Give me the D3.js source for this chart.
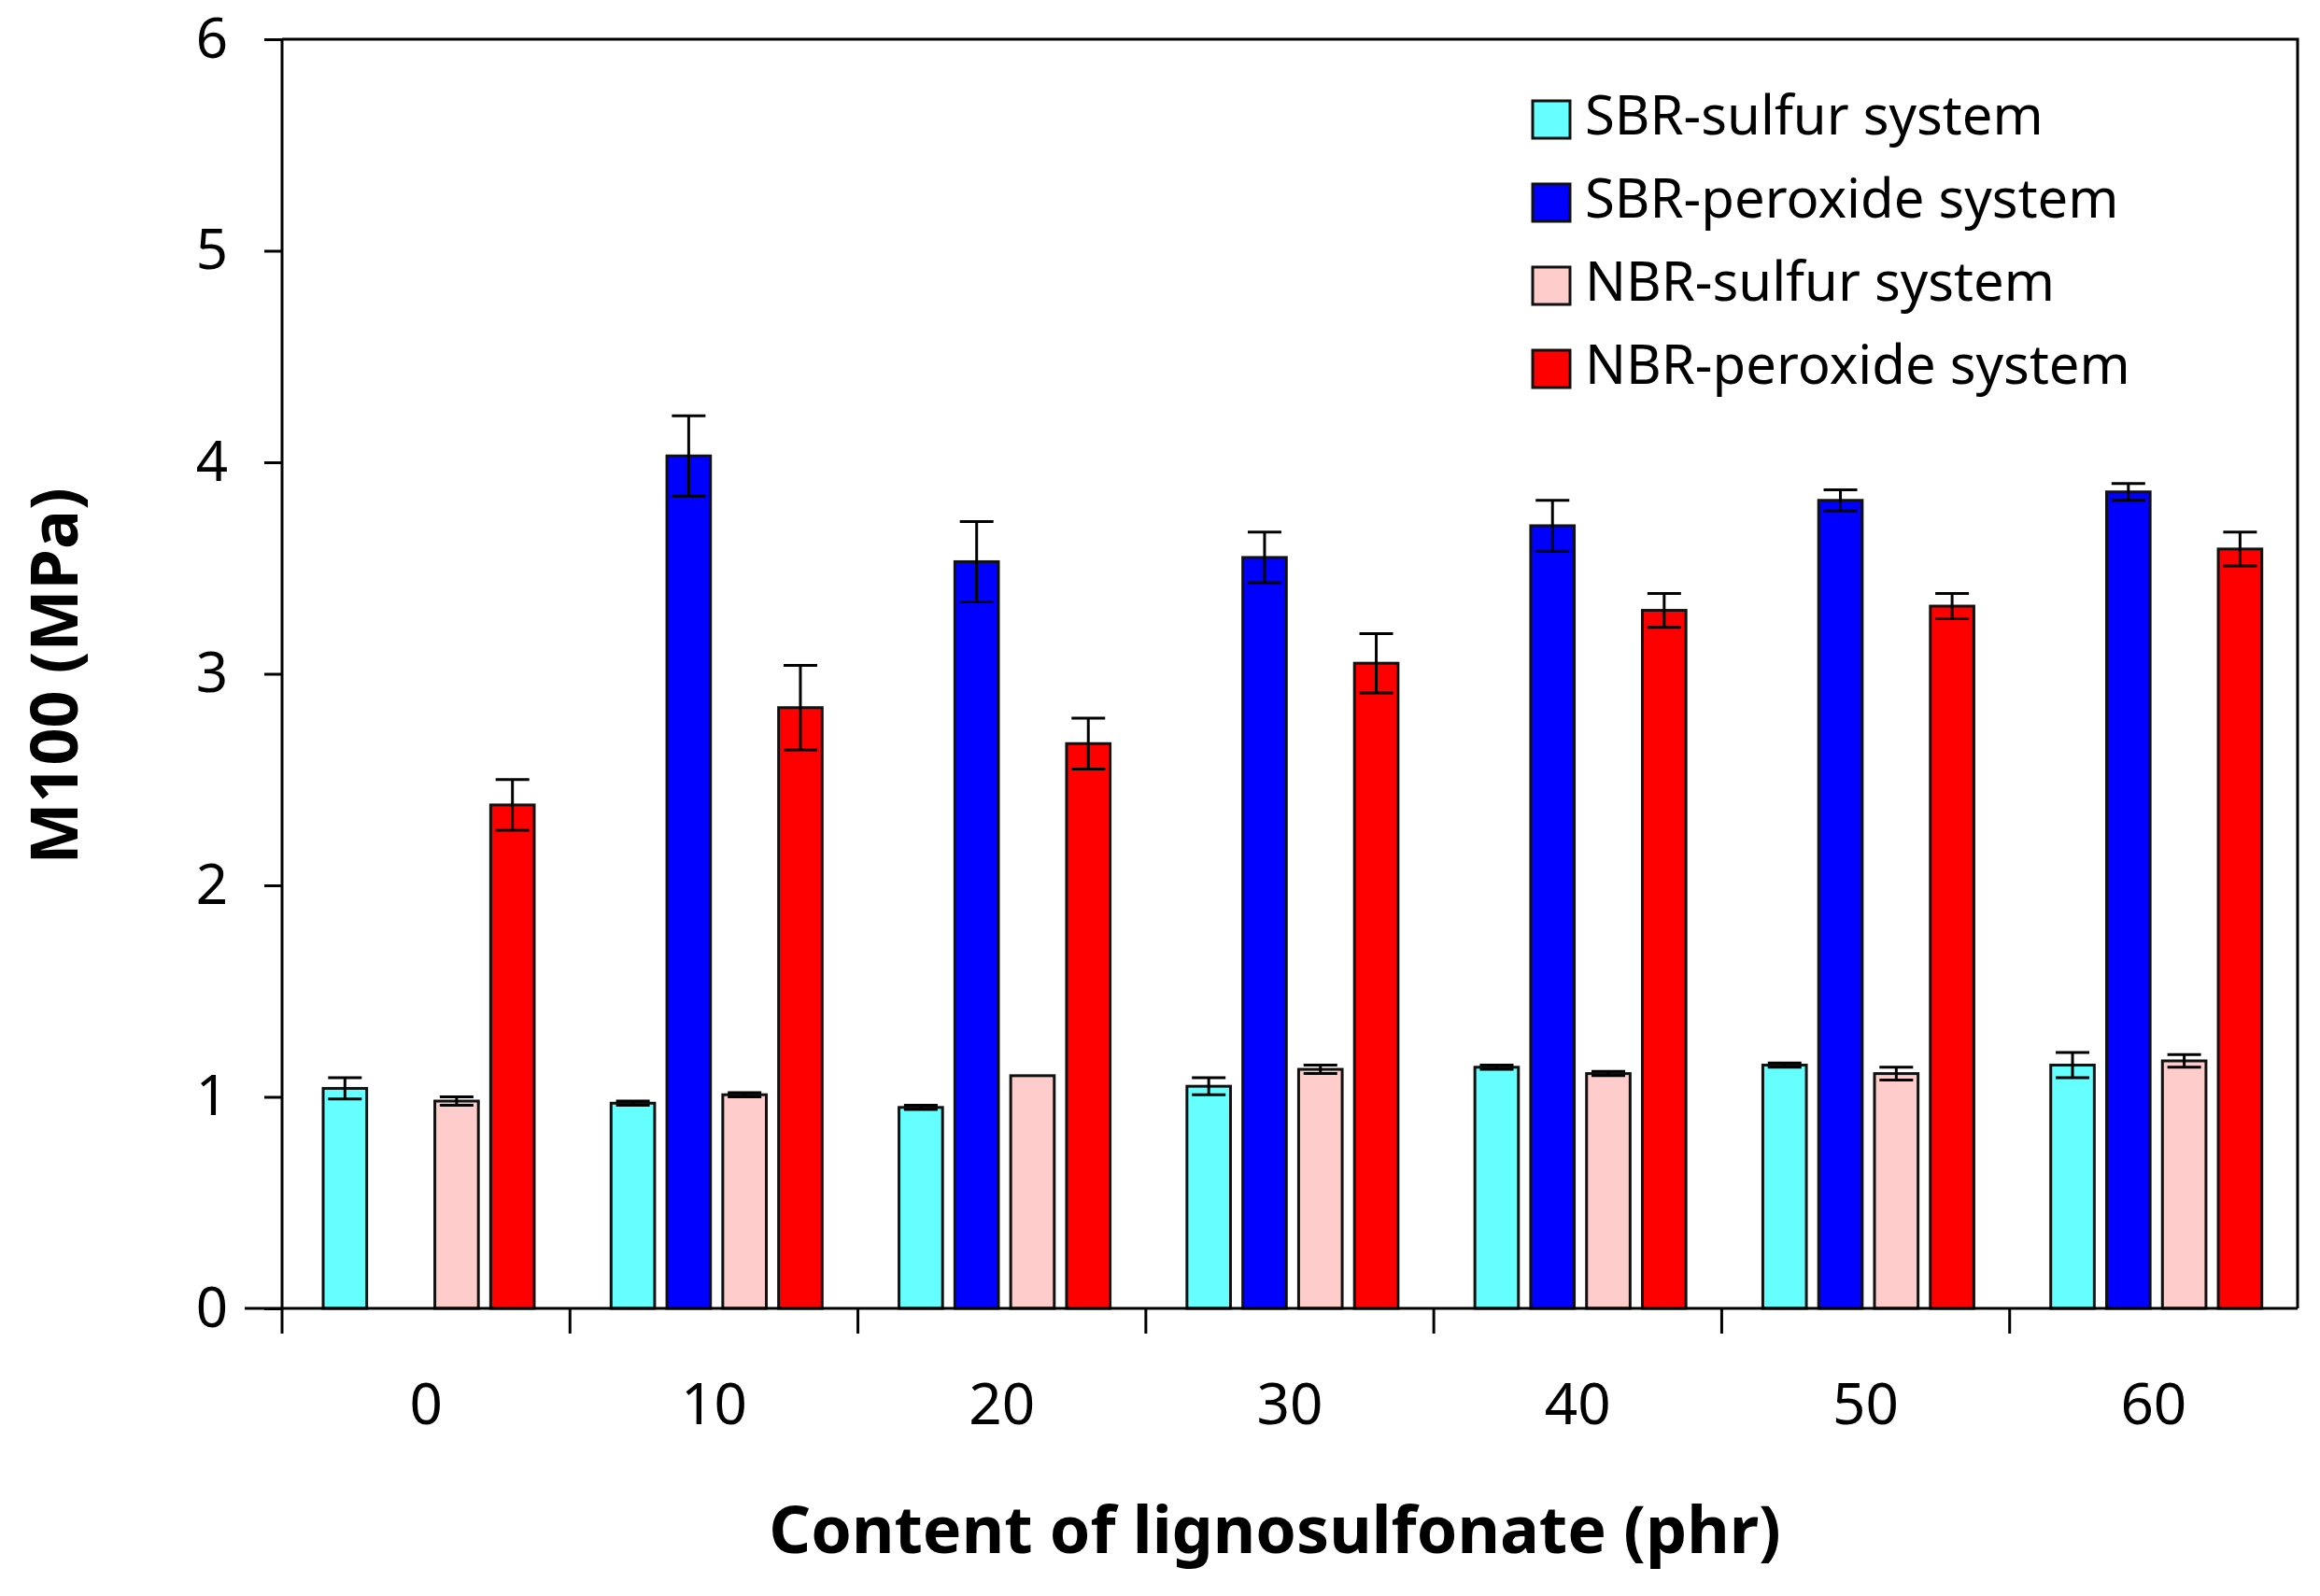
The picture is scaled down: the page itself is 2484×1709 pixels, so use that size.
<!DOCTYPE html>
<html>
<head>
<meta charset="utf-8">
<script src="https://cdn.jsdelivr.net/npm/d3@7"></script>
<style>
  body { margin: 0; background: #fff; }
  text { font-family: "Noto Sans", sans-serif; fill: #000; }
</style>
</head>
<body>
<script>
// Categories (lignosulfonate content, phr)
var categories = ["0", "10", "20", "30", "40", "50", "60"];
var seriesNames = ["SBR-sulfur system", "SBR-peroxide system", "NBR-sulfur system", "NBR-peroxide system"];
var seriesColors = ["#66ffff", "#0000ff", "#ffcccc", "#ff0000"];

// M100 values (MPa) and error bars
var sbrSulfur = [1.04, 0.97, 0.95, 1.05, 1.14, 1.15, 1.15];
var sbrSulfurErr = [0.05, 0.01, 0.01, 0.04, 0.01, 0.01, 0.06];
var sbrPeroxide = [null, 4.03, 3.53, 3.55, 3.70, 3.82, 3.86];
var sbrPeroxideErr = [0, 0.19, 0.19, 0.12, 0.12, 0.05, 0.04];
var nbrSulfur = [0.98, 1.01, 1.10, 1.13, 1.11, 1.11, 1.17];
var nbrSulfurErr = [0.02, 0.01, 0.0, 0.02, 0.01, 0.03, 0.03];
var nbrPeroxide = [2.38, 2.84, 2.67, 3.05, 3.30, 3.32, 3.59];
var nbrPeroxideErr = [0.12, 0.20, 0.12, 0.14, 0.08, 0.06, 0.08];
var yTicks = [0, 1, 2, 3, 4, 5, 6];

var values = [sbrSulfur, sbrPeroxide, nbrSulfur, nbrPeroxide];
var errs = [sbrSulfurErr, sbrPeroxideErr, nbrSulfurErr, nbrPeroxideErr];

var W = 2484, H = 1709;
var pLeft = 302, pRight = 2460, pTop = 42, pBottom = 1401;

var svg = d3.select("body").append("svg")
    .attr("width", W)
    .attr("height", H);

var x0 = d3.scaleBand().domain(categories).range([pLeft, pRight]);
var x1 = d3.scaleBand().domain(d3.range(4))
    .range([44, 44 + 4 * 56.5])
    .paddingInner(0.22).paddingOuter(0);
var y = d3.scaleLinear().domain([0, 6]).range([pBottom, pTop]);

// flatten into bar records
var bars = [];
categories.forEach(function(c, i){
    values.forEach(function(v, s){
        if (v[i] != null) bars.push({ cat: c, s: s, v: v[i], e: errs[s][i] });
    });
});

// plot frame (top and right)
svg.append("path")
    .attr("d", "M" + pLeft + "," + pTop + "H" + pRight + "V" + pBottom)
    .attr("fill", "none")
    .attr("stroke", "#000")
    .attr("stroke-width", 3);

// bars
svg.selectAll(".bar")
    .data(bars)
    .enter()
    .append("rect")
    .attr("class", "bar")
    .attr("x", d => x0(d.cat) + x1(d.s))
    .attr("width", x1.bandwidth())
    .attr("y", d => y(d.v))
    .attr("height", d => y(0) - y(d.v))
    .attr("fill", d => seriesColors[d.s])
    .attr("stroke", "#111")
    .attr("stroke-width", 3);

// error bars
var eb = svg.selectAll(".err")
    .data(bars.filter(d => d.e > 0))
    .enter()
    .append("g")
    .attr("class", "err")
    .attr("stroke", "#000")
    .attr("stroke-width", 3);
eb.append("line")
    .attr("x1", d => x0(d.cat) + x1(d.s) + x1.bandwidth() / 2)
    .attr("x2", d => x0(d.cat) + x1(d.s) + x1.bandwidth() / 2)
    .attr("y1", d => y(d.v - d.e))
    .attr("y2", d => y(d.v + d.e));
[1, -1].forEach(function(sign){
    eb.append("line")
        .attr("x1", d => x0(d.cat) + x1(d.s) + x1.bandwidth() / 2 - 18)
        .attr("x2", d => x0(d.cat) + x1(d.s) + x1.bandwidth() / 2 + 18)
        .attr("y1", d => y(d.v + sign * d.e))
        .attr("y2", d => y(d.v + sign * d.e));
});

// y axis
var yAxis = svg.append("g")
    .attr("transform", "translate(" + pLeft + ",0)")
    .call(d3.axisLeft(y).tickValues(yTicks).tickFormat(d3.format("d")).tickSize(19).tickPadding(58 - 19));
yAxis.selectAll("line, path").attr("stroke", "#000").attr("stroke-width", 3);
yAxis.select(".domain").attr("d", "M0," + pTop + "V" + pBottom);
yAxis.selectAll("text").style("font-size", "60px");

// x axis
var xAxis = svg.append("g")
    .attr("transform", "translate(0," + pBottom + ")")
    .call(d3.axisBottom(x0).tickSize(0).tickPadding(80));
xAxis.select(".domain").attr("d", "M" + (pLeft - 40) + ",0H" + pRight).attr("stroke", "#000").attr("stroke-width", 3);
xAxis.selectAll("text").style("font-size", "62px");

// category separator ticks
svg.selectAll(".sep")
    .data(d3.range(categories.length))
    .enter()
    .append("line")
    .attr("class", "sep")
    .attr("x1", i => x0(categories[i]))
    .attr("x2", i => x0(categories[i]))
    .attr("y1", pBottom)
    .attr("y2", pBottom + 27)
    .attr("stroke", "#000")
    .attr("stroke-width", 3);

// axis titles
svg.append("text")
    .attr("x", 1365)
    .attr("y", 1644)
    .attr("text-anchor", "middle")
    .attr("dominant-baseline", "middle")
    .style("font-size", "70px")
    .style("font-weight", "bold")
    .text("Content of lignosulfonate (phr)");

svg.append("text")
    .attr("transform", "translate(64,724) rotate(-90)")
    .attr("text-anchor", "middle")
    .attr("dominant-baseline", "middle")
    .style("font-size", "70px")
    .style("font-weight", "bold")
    .text("M100 (MPa)");

// legend
var legend = svg.selectAll(".legend")
    .data(seriesNames)
    .enter()
    .append("g")
    .attr("class", "legend")
    .attr("transform", (d, i) => "translate(1641," + (128 + i * 89) + ")");
legend.append("rect")
    .attr("x", 0)
    .attr("y", -20)
    .attr("width", 40)
    .attr("height", 40)
    .attr("fill", (d, i) => seriesColors[i])
    .attr("stroke", "#111")
    .attr("stroke-width", 3);
legend.append("text")
    .attr("x", 56)
    .attr("dominant-baseline", "middle")
    .style("font-size", "58px")
    .text(d => d);
</script>
</body>
</html>
